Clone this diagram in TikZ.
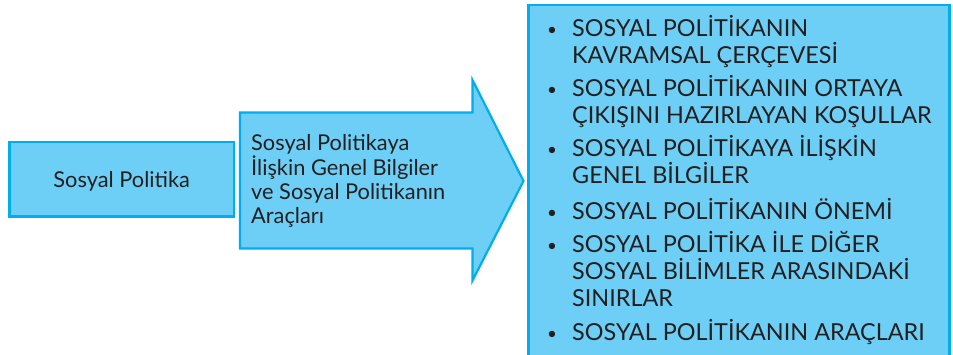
\documentclass[tikz,border=0pt]{standalone}
\usepackage{fontspec}
\setmainfont{Lato}
\definecolor{boxfill}{HTML}{6DCFF6}
\definecolor{boxline}{HTML}{00AEEF}
\definecolor{ink}{HTML}{231F20}
\begin{document}
\begin{tikzpicture}[x=1pt,y=-1pt,
  shapebox/.style={fill=boxfill,draw=boxline,line width=2.2pt},
  txt/.style={inner sep=0pt,text=ink,font=\fontsize{21.8}{24}\selectfont},
  lsttxt/.style={inner sep=0pt,text=ink,font=\fontsize{23.4}{26}\selectfont},
  arrline/.style={txt,anchor=base west},
  lstline/.style={lsttxt,anchor=base west},
  bul/.style={inner sep=0pt,text=ink,font=\fontsize{17}{20}\selectfont,anchor=base}]
\useasboundingbox (0,0) rectangle (953,355);
\begin{scope}
\clip (0,0) rectangle (953,355);
% left box
\draw[shapebox] (9.5,142) rectangle (234,216.5);
% arrow
\draw[shapebox,line join=miter] (240,112.5) -- (472.5,112.5) -- (472.5,80) -- (523.5,181)
  -- (472.5,280.5) -- (472.5,248.5) -- (240,248.5) -- cycle;
% right box
\draw[shapebox] (528.5,5) rectangle (949.5,370);
\end{scope}
\node[txt,anchor=base] (sp) at (121.7,188) {Sosyal Politika};
\node[arrline] (a1) at (251,151) {Sosyal Politikaya};
\node[arrline] (a2) at (251,175.5) {İlişkin Genel Bilgiler};
\node[arrline] (a3) at (251,199.5) {ve Sosyal Politikanın};
\node[arrline] (a4) at (251,223.5) {Araçları};
\foreach \nm/\yy/\tx in {
  l1/37/{SOSYAL POLİTİKANIN},
  l2/63.5/{KAVRAMSAL ÇERÇEVESİ},
  l3/97/{SOSYAL POLİTİKANIN ORTAYA},
  l4/123.5/{ÇIKIŞINI HAZIRLAYAN KOŞULLAR},
  l5/157/{SOSYAL POLİTİKAYA İLİŞKİN},
  l6/184/{GENEL BİLGİLER},
  l7/219.5/{SOSYAL POLİTİKANIN ÖNEMİ},
  l8/253/{SOSYAL POLİTİKA İLE DİĞER},
  l9/280/{SOSYAL BİLİMLER ARASINDAKİ},
  l10/306.5/{SINIRLAR},
  l11/340/{SOSYAL POLİTİKANIN ARAÇLARI}}
  \node[lstline] (\nm) at (572,\yy) {\tx};
\foreach \nm/\yy in {b1/37,b2/97,b3/157,b4/219.5,b5/253,b6/340}
  \node[bul] (\nm) at (552,\yy-1) {\textbullet};
\end{tikzpicture}
\end{document}
